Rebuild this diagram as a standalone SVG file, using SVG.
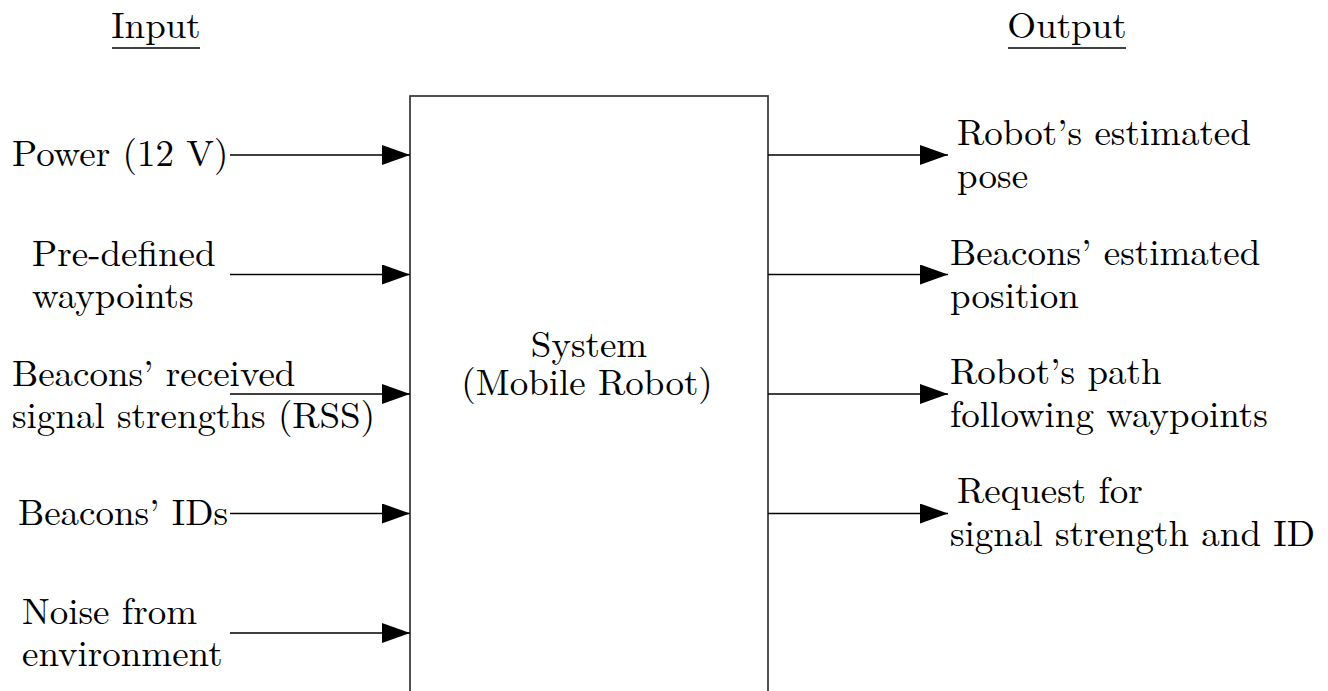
<svg xmlns="http://www.w3.org/2000/svg" width="1328" height="691" viewBox="0 0 1328 691" font-family="Latin Modern Roman, Liberation Serif, serif" font-size="37">
<style>
.ln{stroke:#000;stroke-width:1.5;fill:none}
.box{stroke:#333;stroke-width:1.7;fill:#fff}
</style>
<defs>
<marker id="ah" viewBox="0 0 28 20" refX="28" refY="10" markerWidth="28" markerHeight="20" markerUnits="userSpaceOnUse" orient="auto">
<path d="M0,0 L28,10 L0,20 z" fill="#000"/>
</marker>
</defs>
<rect width="1328" height="691" fill="#fff"/>
<g id="headers" font-family="Latin Modern Roman, Liberation Serif, serif" font-size="37" fill="#000">
<text x="156" y="38" text-anchor="middle">Input</text>
<line class="ln" x1="112" y1="48" x2="200" y2="48"/>
<text x="1067" y="38" text-anchor="middle">Output</text>
<line class="ln" x1="1008" y1="48" x2="1126" y2="48"/>
</g>
<g id="system" font-family="Latin Modern Roman, Liberation Serif, serif" font-size="37" fill="#000">
<rect class="box" x="410" y="96" width="358" height="620"/>
<text x="589" y="357" text-anchor="middle">System</text>
<text x="587" y="395" text-anchor="middle">(Mobile Robot)</text>
</g>
<g id="connectors">
<line class="ln" x1="230" y1="155" x2="410" y2="155" marker-end="url(#ah)"/>
<line class="ln" x1="230" y1="274.5" x2="410" y2="274.5" marker-end="url(#ah)"/>
<line class="ln" x1="230" y1="394" x2="410" y2="394" marker-end="url(#ah)"/>
<line class="ln" x1="230" y1="513.5" x2="410" y2="513.5" marker-end="url(#ah)"/>
<line class="ln" x1="230" y1="633" x2="410" y2="633" marker-end="url(#ah)"/>
<line class="ln" x1="768" y1="155" x2="948" y2="155" marker-end="url(#ah)"/>
<line class="ln" x1="768" y1="274.5" x2="948" y2="274.5" marker-end="url(#ah)"/>
<line class="ln" x1="768" y1="394" x2="948" y2="394" marker-end="url(#ah)"/>
<line class="ln" x1="768" y1="513.5" x2="948" y2="513.5" marker-end="url(#ah)"/>
</g>
<g font-family="Latin Modern Roman, Liberation Serif, serif" font-size="37" fill="#000">
<g id="in-power"><text x="12" y="166">Power (12 V)</text></g>
<g id="in-waypoints">
<text x="32" y="266">Pre-defined</text>
<text x="32" y="308">waypoints</text>
</g>
<g id="in-rss">
<text x="12" y="386">Beacons’ received</text>
<text x="12" y="428">signal strengths (RSS)</text>
</g>
<g id="in-ids"><text x="18" y="525">Beacons’ IDs</text></g>
<g id="in-noise">
<text x="22" y="624">Noise from</text>
<text x="22" y="666">environment</text>
</g>
<g id="out-pose">
<text x="957" y="145">Robot’s estimated</text>
<text x="957" y="188">pose</text>
</g>
<g id="out-beacons">
<text x="950" y="265">Beacons’ estimated</text>
<text x="950" y="308">position</text>
</g>
<g id="out-path">
<text x="950" y="384">Robot’s path</text>
<text x="950" y="427">following waypoints</text>
</g>
<g id="out-request">
<text x="957" y="503">Request for</text>
<text x="950" y="546">signal strength and ID</text>
</g>
</g>
</svg>
